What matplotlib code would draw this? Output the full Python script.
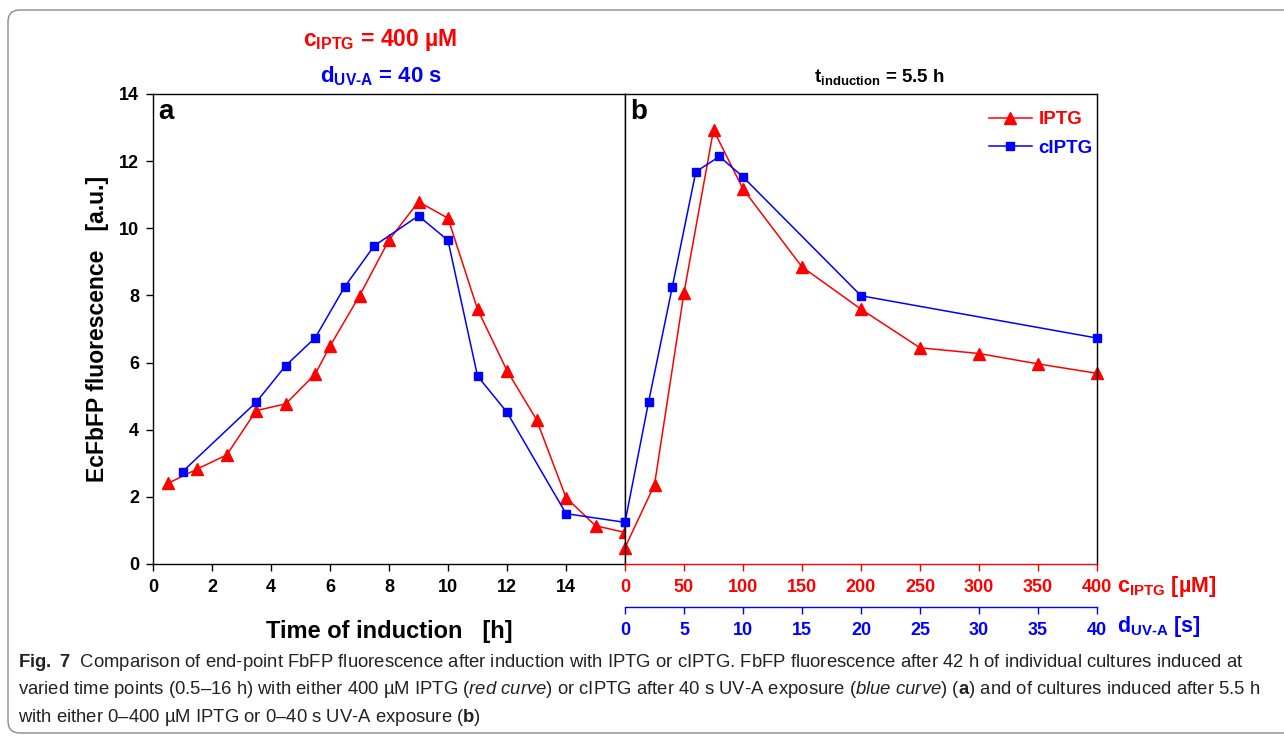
import matplotlib

matplotlib.use('Agg')
import matplotlib.pyplot as plt
from matplotlib import font_manager
from matplotlib.patches import FancyBboxPatch
from matplotlib.transforms import IdentityTransform

# panel a: induction time [h]
time_iptg = [0.5, 1.5, 2.5, 3.5, 4.5, 5.5, 6, 7, 8, 9, 10, 11, 12, 13, 14, 15, 16]
fl_iptg_a = [2.40, 2.83, 3.25, 4.57, 4.77, 5.66, 6.49, 7.99, 9.65, 10.79, 10.30,
             7.59, 5.76, 4.30, 1.98, 1.14, 0.94]
time_ciptg = [1, 3.5, 4.5, 5.5, 6.5, 7.5, 9, 10, 11, 12, 14, 16]
fl_ciptg_a = [2.75, 4.82, 5.91, 6.74, 8.26, 9.48, 10.37, 9.64, 5.60, 4.52, 1.50, 1.24]

# panel b: IPTG concentration [uM] / UV-A exposure [s]
conc_iptg = [0, 25, 50, 75, 100, 150, 200, 250, 300, 350, 400]
fl_iptg_b = [0.49, 2.36, 8.08, 12.93, 11.17, 8.85, 7.59, 6.44, 6.27, 5.96, 5.68]
uv_time = [0, 2, 4, 6, 8, 10, 20, 40]
fl_ciptg_b = [1.24, 4.83, 8.24, 11.68, 12.14, 11.53, 7.99, 6.73]

a_xticks = list(range(0, 16, 2))
yticks = list(range(0, 15, 2))
conc_ticks = list(range(0, 401, 50))
uv_ticks = list(range(0, 41, 5))

RED = '#ff0000'
BLUE = '#0000ff'

names = {f.name for f in font_manager.fontManager.ttflist}
cap_font = 'Liberation Sans Narrow' if 'Liberation Sans Narrow' in names else 'Liberation Sans'

plt.rcParams['font.family'] = ['Liberation Sans', 'DejaVu Sans']
plt.rcParams['mathtext.fontset'] = 'custom'
plt.rcParams['mathtext.rm'] = 'Liberation Sans:bold'
plt.rcParams['mathtext.bf'] = 'Liberation Sans:bold'
plt.rcParams['mathtext.it'] = cap_font + ':italic'
plt.rcParams['mathtext.default'] = 'rm'

W, H = 1284, 736
fig = plt.figure(figsize=(W / 100, H / 100), dpi=100)

# rounded frame round the whole figure
fig.patches.append(FancyBboxPatch((8, 3), 1320, 723, boxstyle='round,pad=0,rounding_size=12',
                                  transform=IdentityTransform(), fill=False,
                                  edgecolor='#8a8a8a', linewidth=1.0))

box_a = [153 / W, 1 - 564 / H, 472 / W, 470 / H]
box_b = [625 / W, 1 - 564 / H, 472 / W, 470 / H]
ax_a = fig.add_axes(box_a)
ax_b = fig.add_axes(box_b)

line_kw = dict(linewidth=1.1, clip_on=False)
tri_kw = dict(marker='^', markersize=8, color=RED, markeredgecolor=RED, **line_kw)
sq_kw = dict(marker='s', markersize=5.2, color=BLUE, markeredgecolor=BLUE, **line_kw)

# ---- panel a
ax_a.plot(time_iptg, fl_iptg_a, **tri_kw)
ax_a.plot(time_ciptg, fl_ciptg_a, **sq_kw)
ax_a.set_xlim(0, 16)
ax_a.set_ylim(0, 14)
ax_a.set_xticks(a_xticks)
ax_a.set_yticks(yticks)
ax_a.tick_params(direction='out', length=5, width=1, labelsize=13, pad=5)
ax_a.tick_params(axis='x', pad=6)
for lab in ax_a.get_xticklabels() + ax_a.get_yticklabels():
    lab.set_fontweight('bold')
for sp in ax_a.spines.values():
    sp.set_linewidth(1)
ax_a.set_ylabel('EcFbFP fluorescence   [a.u.]', fontsize=16.5, fontweight='bold', labelpad=7)
ax_a.set_xlabel('Time of induction   [h]', fontsize=17, fontweight='bold', labelpad=17)
ax_a.text(0.012, 0.99, 'a', transform=ax_a.transAxes, ha='left', va='top',
          fontsize=20, fontweight='bold')

# ---- panel b
h_red, = ax_b.plot(conc_iptg, fl_iptg_b, label='IPTG', **tri_kw)
ax_b.set_xlim(0, 400)
ax_b.set_ylim(0, 14)
ax_b.set_xticks(conc_ticks)
ax_b.tick_params(axis='y', left=False, labelleft=False)
ax_b.tick_params(axis='x', direction='out', length=5, width=1, colors=RED,
                 labelsize=13, pad=6)
for lab in ax_b.get_xticklabels():
    lab.set_fontweight('bold')
for sp in ax_b.spines.values():
    sp.set_linewidth(1)
ax_b.spines['bottom'].set_color(RED)
ax_b.text(0.012, 0.99, 'b', transform=ax_b.transAxes, ha='left', va='top',
          fontsize=20, fontweight='bold')

ax_uv = ax_b.twiny()
h_blue, = ax_uv.plot(uv_time, fl_ciptg_b, label='cIPTG', **sq_kw)
ax_uv.set_xlim(0, 40)
ax_uv.set_xticks(uv_ticks)
ax_uv.xaxis.set_ticks_position('bottom')
ax_uv.xaxis.set_label_position('bottom')
for name in ('top', 'left', 'right'):
    ax_uv.spines[name].set_visible(False)
ax_uv.spines['bottom'].set_visible(True)
ax_uv.spines['bottom'].set_position(('axes', -43 / 470))
ax_uv.spines['bottom'].set_color(BLUE)
ax_uv.spines['bottom'].set_linewidth(1)
ax_uv.tick_params(axis='x', direction='out', length=5, width=1, colors=BLUE,
                  labelsize=13, pad=6)
for lab in ax_uv.get_xticklabels():
    lab.set_fontweight('bold')

leg = ax_uv.legend(handles=[h_red, h_blue], loc='upper right', bbox_to_anchor=(1.026, 0.999),
                   frameon=False, handlelength=2.3, handletextpad=0.35, labelspacing=0.6,
                   prop={'weight': 'bold', 'size': 13.5}, labelcolor='linecolor')

# ---- header and axis-unit texts
fig.text(303 / W, 1 - 46 / H, r'$\mathrm{c}_{\mathrm{IPTG}}$ = 400 µM', color=RED,
         fontsize=16.5, fontweight='bold', ha='left', va='baseline')
fig.text(320 / W, 1 - 82 / H, r'$\mathrm{d}_{\text{UV-A}}$ = 40 s', color=BLUE,
         fontsize=16, fontweight='bold', ha='left', va='baseline')
fig.text(814 / W, 1 - 82 / H, r'$\mathrm{t}_{\mathrm{induction}}$ = 5.5 h', color='black',
         fontsize=13.5, fontweight='bold', ha='left', va='baseline')
fig.text(1117 / W, 1 - 592 / H, r'$\mathrm{c}_{\mathrm{IPTG}}$ [µM]', color=RED,
         fontsize=15.5, fontweight='bold', ha='left', va='baseline')
fig.text(1117 / W, 1 - 632 / H, r'$\mathrm{d}_{\text{UV-A}}$ [s]', color=BLUE,
         fontsize=15.5, fontweight='bold', ha='left', va='baseline')

# ---- caption
caption = [
    r'$\mathbf{Fig.\ 7}$  Comparison of end-point FbFP fluorescence after induction with IPTG or cIPTG. '
    r'FbFP fluorescence after 42 h of individual cultures induced at',
    r'varied time points (0.5–16 h) with either 400 µM IPTG ($\mathit{red\ curve}$) or cIPTG after '
    r'40 s UV-A exposure ($\mathit{blue\ curve}$) ($\mathbf{a}$) and of cultures induced after 5.5 h',
    r'with either 0–400 µM IPTG or 0–40 s UV-A exposure ($\mathbf{b}$)',
]
cap_size = 16 if cap_font.endswith('Narrow') else 13.3
for i, line in enumerate(caption):
    fig.text(18 / W, 1 - (667 + 27.5 * i) / H, line, family=cap_font, fontsize=cap_size,
             color='#222222', ha='left', va='baseline')

plt.savefig('out.png', dpi=100)
plt.close()
